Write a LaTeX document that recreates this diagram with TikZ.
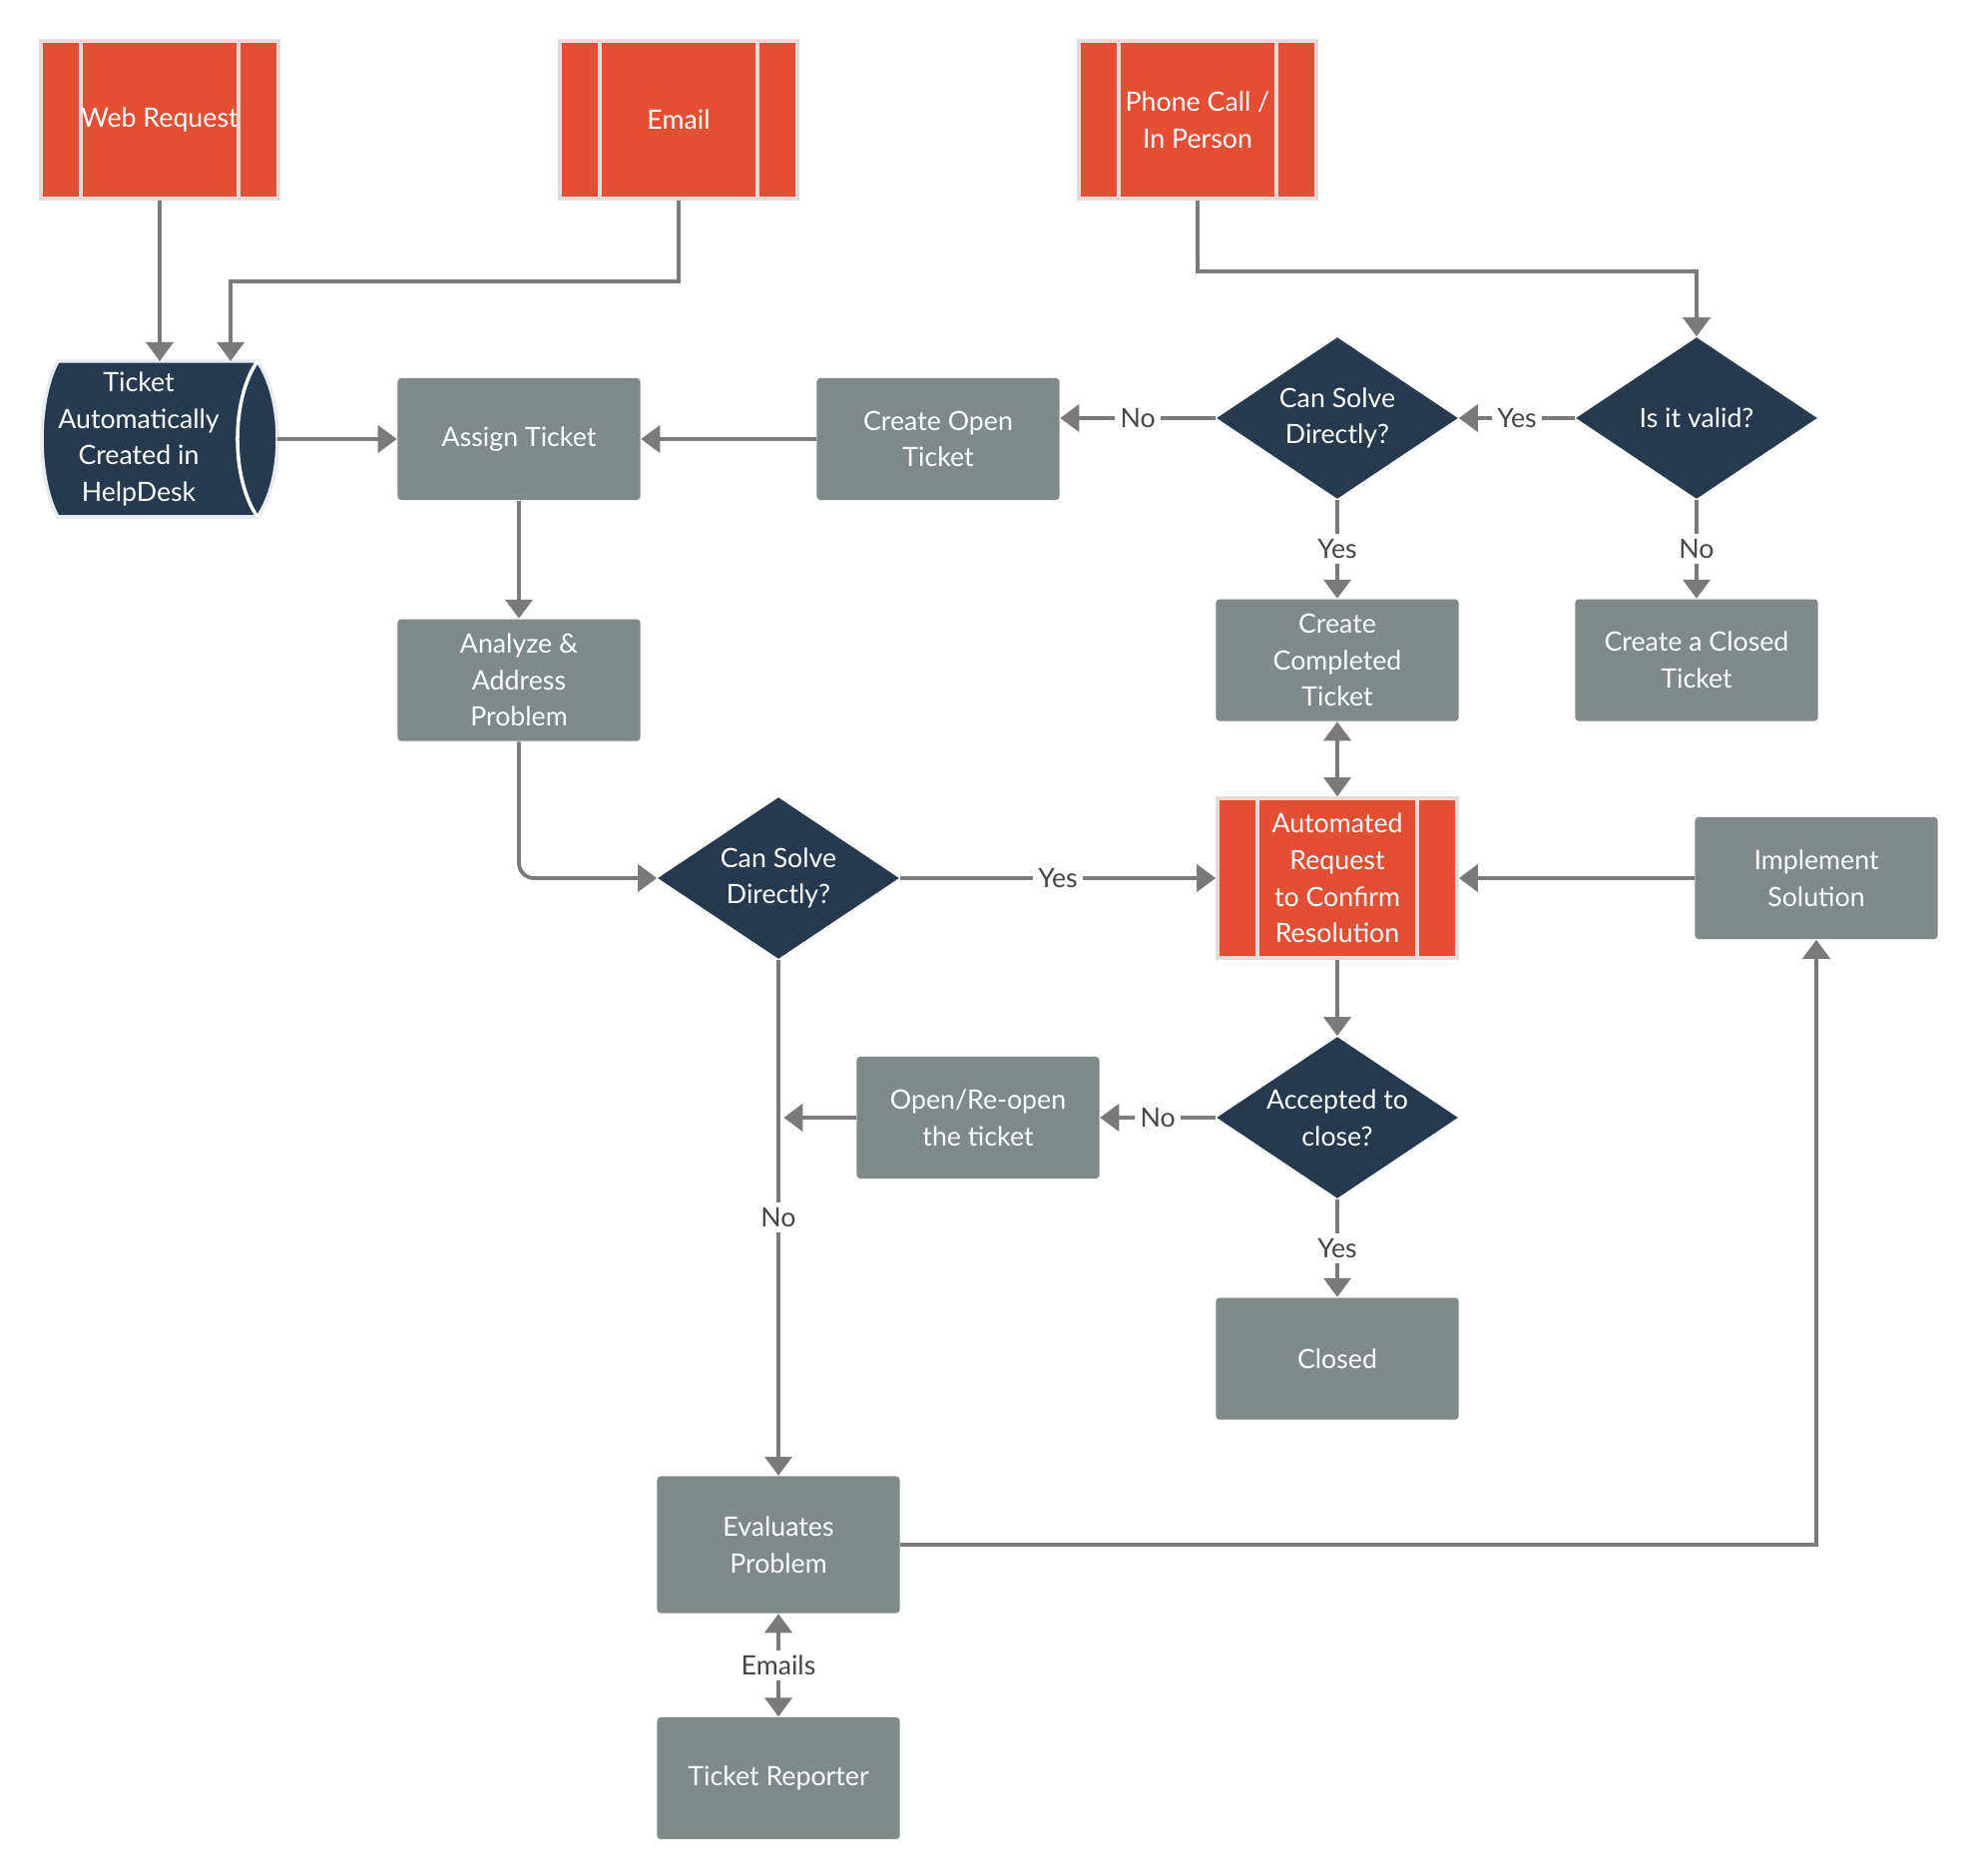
\documentclass[tikz,border=0pt]{standalone}
\usepackage{fontspec}
\setmainfont{Lato}
\usetikzlibrary{shapes,arrows.meta,positioning}
\definecolor{redbox}{RGB}{226,79,52}
\definecolor{redrim}{RGB}{230,218,216}
\definecolor{navy}{RGB}{38,57,79}
\definecolor{navyrim}{RGB}{232,236,240}
\definecolor{greybox}{RGB}{127,137,138}
\definecolor{arrowgrey}{RGB}{122,122,122}
\definecolor{lbltext}{RGB}{70,70,70}

\begin{document}
\begin{tikzpicture}[% one unit = one pixel of the 1980x1880 sheet, y runs down
			x=0.01cm, y=-0.01cm,
			every node/.style={
				align=center,  		% so that "\\" breaks the line
				text=white,
				font=\fontsize{7.6}{10.4}\selectfont
			},
			wire/.style={draw,line width=1.1pt,arrowgrey},
			every edge/.style={wire},
			>={Triangle[width=0.27cm,length=0.19cm]},
			source/.style={rectangle,fill=redbox,draw=redrim,line width=1pt,
				minimum width=2.38cm,minimum height=1.58cm,
				path picture={% the two inner bars
					\draw[redrim,line width=1pt]
					([xshift=0.4cm]path picture bounding box.north west) -- ([xshift=0.4cm]path picture bounding box.south west)
					([xshift=-0.4cm]path picture bounding box.north east) -- ([xshift=-0.4cm]path picture bounding box.south east);}
			},
			task/.style={rectangle,rounded corners=1pt,fill=greybox,
				minimum width=2.43cm,minimum height=1.22cm},
			query/.style={diamond,aspect=1.5,fill=navy,inner sep=0pt,
				minimum width=2.42cm,minimum height=1.62cm},
			lbl/.style={fill=white,text=lbltext,inner sep=1.5pt}
		]
		\useasboundingbox (0,0) rectangle (1980,1880);
		% stored data shape behind R4
		\filldraw[fill=navy,draw=navyrim,line width=1pt]
			(58,362) -- (258,362) .. controls (284.7,400) and (284.7,480) .. (258,518)
			-- (58,518) .. controls (36.7,480) and (36.7,400) .. (58,362) -- cycle;
		\draw[white,line width=1pt] (258,362) .. controls (231.3,400) and (231.3,480) .. (258,518);

		\node[source](R1) at (160,120) {Web Request};
		\node[source](R2) at (680,120) {Email};
		\node[source](R3) at (1200,120) {Phone Call /\\ In Person};
		\node(R4) at (139,440) [inner sep=0pt,outer sep=0pt,minimum width=1.84cm,minimum height=1.56cm] {Ticket\\ Automatically\\ Created in\\ HelpDesk};
		\node[task](R5) at (520,440) {Assign Ticket};
		\node[task](R6) at (940,440) {Create Open\\ Ticket};
		\node[query](R7) at (1340,419) {Can Solve\\ Directly?};
		\node[query](R8) at (1700,419) {Is it valid?};
		\node[task](R9)[below=0.99cm of R7] {Create\\ Completed\\ Ticket};
		\node[task](R10)[below=0.99cm of R8] {Create a Closed\\ Ticket};
		\node[task](R11)[below=1.18cm of R5] {Analyze \&\\ Address\\ Problem};
		\node[query](R12) at (780,880) {Can Solve\\ Directly?};
		\node[source,minimum width=2.4cm,minimum height=1.6cm](R13) at (1340,880) {Automated\\ Request\\ to Confirm\\ Resolution};
		\node[task](R14) at (1820,880) {Implement\\ Solution};
		\node[task](R15) at (980,1120) {Open/Re-open\\ the ticket};
		\node[query](R16) at (1340,1120) {Accepted to\\ close?};
		\node[task](R17)[below=0.98cm of R16] {Closed};
		\node[task,minimum height=1.37cm](R18) at (780,1548) {Evaluates\\ Problem};
		\node[task](R19)[below=1.03cm of R18] {Ticket Reporter};
		\coordinate (J1) at (R12.south |- R15.west);

		\path[->]
		(R1)edge []	(R1.south |- R4.north)
		(R8)edge []	node [lbl] {Yes} (R7)
		(R7)edge []	node [lbl] {No} (R7.west -| R6.east)
		(R6)edge []	(R5)
		(R5)edge []	(R11)
		(R7)edge []	node [lbl] {Yes} (R9)
		(R8)edge []	node [lbl] {No} (R10)
		(R12)edge []	node [lbl] {Yes} (R13)
		(R14)edge []	(R13)
		(R13)edge []	(R16)
		(R16)edge []	node [lbl] {No} (R15)
		(R16)edge []	node [lbl] {Yes} (R17)
		(R12)edge []	node [lbl] {No} (R18)
		(R15)edge []	([xshift=1.5pt]J1)
		;
		\path[<->]
		(R9)edge []	(R13)
		(R18)edge []	node [lbl] {Emails} (R19)
		;
		\draw[wire,->] (R2.south) -- ++(0,81) -| (R4.north east);
		\draw[wire,->] (R3.south) -- ++(0,71) -| (R8.north);
		\draw[wire,->] ([xshift=0.47cm]R4.east) -- (R5.west);
		\draw[wire,->,rounded corners=0.15cm] (R11.south) |- (R12.west);
		\draw[wire,->] (R18.east) -| (R14.south);
	\end{tikzpicture}
\end{document}
